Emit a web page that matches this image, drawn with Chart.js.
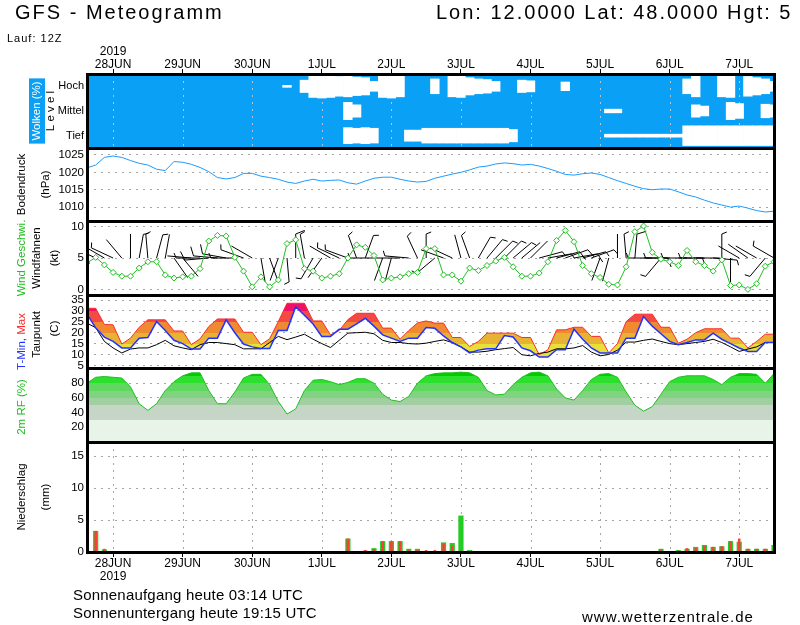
<!DOCTYPE html>
<html lang="de">
<head>
<meta charset="utf-8">
<title>GFS - Meteogramm</title>
<script src="https://cdn.jsdelivr.net/npm/chart.js@4.4.1/dist/chart.umd.min.js"></script>
<style>
  html, body { margin: 0; padding: 0; background: #fff; }
  body { width: 800px; height: 625px; position: relative; overflow: hidden; font-family: "Liberation Sans", Arial, sans-serif; color: #000; }
  canvas { position: absolute; left: 0; top: 0; }
  .txt { position: absolute; white-space: nowrap; line-height: 1; }
  #titel { left: 15px; top: 2px; font-size: 20px; letter-spacing: 2px; }
  #ort { left: 436px; top: 2px; font-size: 20px; letter-spacing: 2px; }
  #lauf { left: 7px; top: 33px; font-size: 11px; letter-spacing: 1px; }
  #auf { left: 73px; top: 587px; font-size: 15px; letter-spacing: 0.2px; }
  #unter { left: 73px; top: 605px; font-size: 15px; letter-spacing: 0.2px; }
  #quelle { left: 582px; top: 609px; font-size: 15px; letter-spacing: 1px; }
</style>
</head>
<body>
<canvas id="meteogramm" width="800" height="625"></canvas>
<div class="txt" id="titel">GFS - Meteogramm</div>
<div class="txt" id="ort">Lon: 12.0000 Lat: 48.0000 Hgt: 5</div>
<div class="txt" id="lauf">Lauf: 12Z</div>
<div class="txt" id="auf">Sonnenaufgang heute 03:14 UTC</div>
<div class="txt" id="unter">Sonnenuntergang heute 19:15 UTC</div>
<div class="txt" id="quelle">www.wetterzentrale.de</div>
<script>
// Stunden ab 28JUN 00Z (Lauf 27JUN 12Z)
const stunden = [
  -9, -6, -3, 0, 3, 6, 9, 12, 15, 18,
  21, 24, 27, 30, 33, 36, 39, 42, 45, 48,
  51, 54, 57, 60, 63, 66, 69, 72, 75, 78,
  81, 84, 87, 90, 93, 96, 99, 102, 105, 108,
  111, 114, 117, 120, 123, 126, 129, 132, 135, 138,
  141, 144, 147, 150, 153, 156, 159, 162, 165, 168,
  171, 174, 177, 180, 183, 186, 189, 192, 195, 198,
  201, 204, 207, 210, 213, 216, 219, 222, 225, 228
];
const tagStunden = [0, 24, 48, 72, 96, 120, 144, 168, 192, 216];
const tage = ['28JUN', '29JUN', '30JUN', '1JUL', '2JUL', '3JUL', '4JUL', '5JUL', '6JUL', '7JUL'];
const jahr = '2019';

const druckTicks = [1010, 1015, 1020, 1025];
const windTicks = [0, 5, 10];
const tempTicks = [5, 10, 15, 20, 25, 30, 35];
const feuchteTicks = [20, 40, 60, 80];
const regenTicks = [0, 5, 10, 15];
const wolkenStufen = ['Tief', 'Mittel', 'Hoch'];

const luftdruck = [
  1021.3, 1022.1, 1024.3, 1024.7, 1024.3, 1023.4, 1022.6, 1022.1, 1020.9, 1020.5,
  1023.1, 1022.9, 1022.3, 1021.4, 1020.2, 1018.5, 1018.1, 1018.5, 1019.7, 1019.7,
  1018.9, 1018.5, 1018.0, 1017.2, 1016.8, 1017.5, 1018.0, 1017.5, 1017.7, 1017.8,
  1017.0, 1016.6, 1017.5, 1018.3, 1018.6, 1018.6, 1018.0, 1017.5, 1017.2, 1017.4,
  1018.3, 1018.9, 1019.5, 1020.0, 1020.7, 1021.5, 1021.8, 1022.4, 1022.7, 1022.5,
  1022.1, 1022.3, 1021.8, 1021.1, 1020.3, 1019.4, 1019.2, 1019.6, 1019.8, 1019.4,
  1018.5, 1017.6, 1016.8, 1016.0, 1015.3, 1015.0, 1015.2, 1015.2, 1014.4, 1013.5,
  1012.9, 1012.0, 1011.2, 1010.6, 1010.0, 1010.3, 1009.7, 1009.0, 1008.6, 1008.8
];

const windGeschw = [
  4.2, 5.1, 3.9, 2.7, 2.1, 2.1, 3.4, 4.4, 4.4, 2.3,
  1.8, 2.0, 2.1, 3.3, 7.7, 8.6, 8.5, 5.1, 2.9, 0.4,
  2.0, 0.4, 1.5, 7.3, 7.9, 3.3, 2.9, 1.8, 2.1, 2.5,
  5.0, 7.1, 6.7, 5.4, 1.5, 1.8, 2.0, 2.5, 2.7, 6.5,
  6.5, 2.3, 2.3, 1.3, 3.4, 3.0, 3.8, 4.5, 5.1, 3.6,
  2.1, 2.1, 2.6, 4.4, 7.8, 9.4, 7.6, 3.8, 2.5, 1.9,
  0.8, 0.7, 3.6, 9.2, 10.1, 5.9, 4.8, 4.4, 3.8, 6.2,
  4.4, 3.8, 2.9, 4.7, 0.6, 0.7, 0.0, 0.9, 3.7, 4.4
];

// Windrichtung in Grad (woher)
const windRichtung = [
  340, 295, 300, 295, 320, 0, 10, 355, 15, 10,
  145, 140, 275, 270, 265, 275, 280, 270, 290, 300,
  170, 160, 200, 175, 0, 350, 210, 215, 300, 295,
  290, 340, 20, 270, 200, 195, 270, 275, 335, 0,
  230, 290, 295, 345, 340, 30, 40, 45, 45, 50,
  50, 45, 75, 80, 75, 70, 80, 75, 70, 200,
  195, 0, 355, 5, 90, 270, 220, 270, 90, 270,
  90, 270, 95, 0, 180, 300, 305, 300, 220, 300
];

const tMax = [
  31.2, 31.2, 23.8, 23.6, 14.8, 17.5, 22.5, 25.9, 25.9, 25.9,
  20.8, 20.8, 14.5, 17.2, 22.8, 26.3, 26.3, 26.3, 20.2, 20.2,
  14.5, 17.2, 25.1, 33.5, 33.5, 33.5, 25.4, 25.4, 19.0, 21.0,
  26.0, 28.9, 28.9, 28.9, 22.1, 22.1, 17.0, 21.0, 24.5, 25.4,
  24.4, 24.4, 17.8, 17.8, 13.7, 16.0, 19.8, 19.8, 19.8, 19.8,
  17.8, 17.8, 9.9, 12.2, 21.3, 21.3, 22.5, 22.5, 18.3, 18.3,
  10.7, 15.0, 25.1, 28.5, 28.5, 28.5, 22.5, 22.5, 15.2, 17.0,
  20.0, 21.8, 21.8, 21.8, 17.5, 17.5, 13.0, 16.0, 19.3, 19.3
];

const tMin = [
  28.5, 22.2, 18.0, 16.0, 13.0, 13.0, 17.5, 17.8, 25.1, 21.0,
  16.5, 15.0, 12.5, 12.5, 17.5, 17.5, 25.9, 20.0, 14.8, 13.5,
  12.7, 12.7, 21.0, 21.0, 31.9, 28.0, 24.0, 18.3, 18.3, 21.6,
  21.6, 24.0, 26.6, 23.0, 19.0, 17.5, 16.0, 17.5, 17.5, 22.4,
  22.0, 18.5, 15.5, 13.5, 10.7, 12.0, 12.6, 12.6, 18.7, 18.0,
  13.0, 11.7, 8.8, 8.8, 12.2, 12.2, 21.6, 17.0, 13.0, 10.7,
  10.7, 10.7, 17.5, 17.5, 27.4, 23.0, 19.5, 16.0, 14.5, 15.5,
  16.7, 16.7, 19.8, 17.0, 15.0, 13.0, 11.4, 11.4, 15.5, 15.5
];

const taupunkt = [
  24.4, 22.3, 16.0, 13.0, 10.7, 12.5, 13.0, 13.0, 14.5, 16.5,
  14.0, 13.0, 12.2, 14.5, 15.5, 15.5, 15.0, 14.5, 12.6, 12.6,
  12.6, 15.5, 18.3, 16.8, 18.0, 19.3, 17.0, 15.0, 13.2, 16.5,
  19.8, 20.0, 20.2, 19.5, 16.5, 15.5, 15.5, 15.0, 14.8, 15.2,
  16.0, 16.7, 15.5, 13.5, 11.1, 11.1, 11.5, 12.2, 12.7, 13.2,
  9.9, 9.4, 10.5, 11.1, 12.6, 12.6, 13.0, 14.1, 11.1, 9.4,
  10.0, 12.0, 15.7, 15.7, 16.5, 17.1, 16.0, 15.0, 14.5, 15.0,
  15.5, 16.0, 17.0, 15.5, 13.5, 11.4, 12.5, 13.5, 15.5, 15.5
];

const feuchte = [
  80, 88, 89, 88, 87, 75, 52, 43, 52, 70,
  82, 90, 94, 94, 70, 52, 52, 68, 87, 92,
  92, 78, 55, 38, 45, 70, 84, 85, 82, 78,
  81, 86, 86, 80, 65, 57, 55, 62, 80, 90,
  93, 94, 94, 95, 94, 88, 70, 64, 65, 78,
  88, 94, 95, 90, 72, 60, 57, 70, 85, 92,
  93, 88, 68, 50, 42, 48, 65, 82, 88, 90,
  90, 90, 85, 78, 88, 93, 93, 92, 80, 93
];

const regenGruen = [
  0, 3.3, 0.4, 0, 0, 0, 0, 0, 0, 0,
  0, 0, 0, 0, 0, 0, 0, 0, 0, 0,
  0, 0, 0, 0, 0, 0, 0, 0, 0, 0,
  2.1, 0, 0.2, 0.6, 1.7, 1.7, 1.7, 0.5, 0.5, 0,
  0, 1.5, 1.4, 5.7, 0.3, 0, 0, 0, 0, 0,
  0, 0, 0, 0, 0, 0, 0, 0, 0, 0,
  0, 0, 0, 0, 0, 0, 0.5, 0, 0.3, 0.5,
  0.8, 1.1, 0.8, 0.9, 1.7, 1.6, 0.5, 0.5, 0.5, 1.1
];

const regenRot = [
  3.9, 3.3, 0.5, 0, 0, 0, 0, 0, 0, 0,
  0, 0, 0, 0, 0, 0, 0, 0, 0, 0,
  0, 0, 0, 0, 0, 0, 0, 0, 0, 0,
  2.1, 0, 0.3, 0.5, 1.7, 1.7, 1.7, 0.4, 0.3, 0.3,
  0.3, 1.3, 1.0, 0.2, 0, 0, 0, 0.1, 0, 0.1,
  0, 0, 0, 0, 0, 0, 0, 0, 0, 0,
  0, 0.1, 0, 0, 0, 0, 0.4, 0, 0.2, 0.6,
  0.6, 1.0, 0.8, 0.9, 1.7, 2.1, 0.5, 0.5, 0.5, 0.5
];

// Bedeckung in %
const wolkenHoch = [
  0, 0, 0, 0, 0, 0, 0, 0, 0, 0,
  0, 0, 0, 0, 0, 0, 0, 0, 0, 0,
  0, 0, 0, 8, 0, 50, 90, 95, 90, 80,
  85, 75, 70, 40, 90, 95, 85, 0, 0, 0,
  60, 0, 85, 90, 70, 60, 55, 40, 0, 0,
  50, 45, 0, 0, 0, 35, 0, 0, 0, 0,
  0, 0, 0, 0, 0, 0, 0, 0, 0, 60,
  85, 0, 0, 85, 90, 0, 80, 70, 60, 40
];
const wolkenMittel = [
  0, 0, 0, 0, 0, 0, 0, 0, 0, 0,
  0, 0, 0, 0, 0, 0, 0, 0, 0, 0,
  0, 0, 0, 0, 0, 0, 0, 0, 0, 0,
  70, 50, 0, 0, 0, 0, 0, 0, 0, 0,
  0, 0, 0, 0, 0, 0, 0, 0, 0, 0,
  0, 0, 0, 0, 0, 0, 0, 0, 0, 0,
  15, 15, 0, 0, 0, 0, 0, 0, 0, 0,
  50, 40, 0, 0, 70, 60, 0, 0, 55, 50
];
const wolkenTief = [
  0, 0, 0, 0, 0, 0, 0, 0, 0, 0,
  0, 0, 0, 0, 0, 0, 0, 0, 0, 0,
  0, 0, 0, 0, 0, 0, 0, 0, 0, 0,
  65, 60, 65, 60, 0, 0, 0, 45, 45, 60,
  60, 60, 60, 60, 60, 60, 60, 60, 60, 50,
  0, 0, 0, 0, 0, 0, 0, 0, 0, 0,
  12, 12, 12, 12, 12, 12, 12, 12, 12, 80,
  80, 80, 80, 80, 80, 80, 80, 80, 80, 80
];

const wolkenBlau = '#0aa0f5';
const gruen = '#1fbf1f';
const schrift = 'Liberation Sans';

const punkte = werte => stunden.map((t, i) => ({ x: t, y: werte[i] }));
const balken = werte => stunden.map((t, i) => ({ x: t, y: werte[i] > 0 ? werte[i] : null }));
const wolkenBalken = (werte, stufe) => stunden.map((t, i) => ({
  x: t,
  y: werte[i] > 0 ? [stufe - werte[i] / 200, stufe + werte[i] / 200] : null
}));

// horizontale Farbbaender fuer Flaechen
function baender(chart, achse, grenzen, farben) {
  const s = chart.scales[achse];
  if (!s || !(s.bottom > s.top)) return farben[0];
  const g = chart.ctx.createLinearGradient(0, s.bottom, 0, s.top);
  const h = s.bottom - s.top;
  const pos = v => Math.min(1, Math.max(0, (s.bottom - s.getPixelForValue(v)) / h));
  farben.forEach((f, k) => {
    g.addColorStop(k === 0 ? 0 : pos(grenzen[k - 1]), f);
    g.addColorStop(k === farben.length - 1 ? 1 : pos(grenzen[k]), f);
  });
  return g;
}

function yAchse(min, max, gewicht, liste, extra) {
  return Object.assign({
    type: 'linear',
    position: 'left',
    stack: 'meteo',
    stackWeight: gewicht,
    min: min,
    max: max,
    offset: false,
    afterBuildTicks: s => { s.ticks = liste.map(v => ({ value: v })); },
    afterFit: s => { s.width = 87; },
    border: { display: false, dash: [2, 5] },
    grid: { color: '#a6a6a6', drawTicks: false, lineWidth: 1 },
    ticks: {
      autoSkip: false, color: '#000', padding: 3,
      font: { family: schrift, size: 11.5 },
      callback: v => String(v)
    }
  }, extra || {});
}

function xAchse(position, hoehe, oben) {
  return {
    type: 'linear',
    position: position,
    min: -9,
    max: 228,
    offset: false,
    afterBuildTicks: s => { s.ticks = tagStunden.map(v => ({ value: v })); },
    afterFit: s => { s.height = hoehe; },
    border: { display: false },
    grid: { offset: false, drawOnChartArea: false, drawTicks: true, tickLength: 5, color: '#000' },
    ticks: {
      autoSkip: false, maxRotation: 0, padding: oben ? -2 : 0, color: '#000',
      font: { family: schrift, size: 12, lineHeight: 1.1 },
      callback: v => {
        const i = tagStunden.indexOf(v);
        if (i !== 0) return tage[i];
        return oben ? [jahr, tage[i]] : [tage[i], jahr];
      }
    }
  };
}

const seitenTexte = [
  { achse: 'yDruck', zeilen: [
    { x: 22, dy: 0, teile: [['Bodendruck', '#000']] },
    { x: 46, dy: 0, teile: [['(hPa)', '#000']] } ] },
  { achse: 'yWind', zeilen: [
    { x: 22, dy: 0, teile: [['Wind Geschwi.', gruen]] },
    { x: 37, dy: 0, teile: [['Windfahnen', '#000']] },
    { x: 55, dy: 0, teile: [['(kt)', '#000']] } ] },
  { achse: 'yTemp', zeilen: [
    { x: 22, dy: 10, teile: [['T-Min, ', '#2233ff'], ['Max', '#ff2a2a']] },
    { x: 37, dy: 3, teile: [['Taupunkt', '#000']] },
    { x: 55, dy: -3, teile: [['(C)', '#000']] } ] },
  { achse: 'yFeuchte', zeilen: [
    { x: 22, dy: 2, teile: [['2m RF (%)', gruen]] } ] },
  { achse: 'yRegen', zeilen: [
    { x: 22, dy: 0, teile: [['Niederschlag', '#000']] },
    { x: 46, dy: 0, teile: [['(mm)', '#000']] } ] },
  { achse: 'yWolken', zeilen: [
    { x: 37, dy: 0, teile: [['Wolken (%)', '#fff']], kasten: wolkenBlau },
    { x: 51, dy: 0, teile: [['L e v e l', '#000']] } ] }
];

const meteoDeko = {
  id: 'meteoDeko',
  beforeDraw(chart) {
    const { ctx, chartArea: a, scales } = chart;
    const w = scales.yWolken;
    ctx.save();
    ctx.fillStyle = wolkenBlau;
    ctx.fillRect(a.left, w.top, a.right - a.left, w.bottom - w.top);
    ctx.restore();
  },
  beforeDatasetsDraw(chart) {
    const { ctx, chartArea: a, scales } = chart;
    const xs = scales.x;
    [['yWolken', '#b8c4cc'], ['yRegen', '#a6a6a6']].forEach(([id, farbe]) => {
      const s = scales[id];
      ctx.save();
      ctx.strokeStyle = farbe;
      ctx.lineWidth = 1;
      ctx.setLineDash([2, 5]);
      tagStunden.forEach(t => {
        const x = Math.round(xs.getPixelForValue(t)) + 0.5;
        ctx.beginPath();
        ctx.moveTo(x, s.top);
        ctx.lineTo(x, s.bottom);
        ctx.stroke();
      });
      ctx.restore();
    });

    // Windfahnen
    const ys = scales.yWind;
    const y0 = ys.getPixelForValue(5);
    ctx.save();
    ctx.beginPath();
    ctx.rect(a.left, ys.top + 2, a.right - a.left, ys.bottom - ys.top - 4);
    ctx.clip();
    ctx.strokeStyle = '#000';
    ctx.lineWidth = 1;
    stunden.forEach((t, i) => {
      const x = xs.getPixelForValue(t);
      const w = windRichtung[i] * Math.PI / 180;
      const dx = Math.sin(w), dy = -Math.cos(w);
      const L = 24;
      const ex = x + dx * L, ey = y0 + dy * L;
      ctx.beginPath();
      ctx.moveTo(x, y0);
      ctx.lineTo(ex, ey);
      const v = windGeschw[i];
      const f = v >= 7.5 ? 9 : v >= 2.5 ? 5 : 0;
      if (f) {
        ctx.moveTo(ex, ey);
        ctx.lineTo(ex - dy * f + dx * f * 0.4, ey + dx * f + dy * f * 0.4);
      }
      ctx.stroke();
    });
    ctx.restore();
  },
  afterDraw(chart) {
    const { ctx, chartArea: a, scales } = chart;
    ctx.save();
    ctx.strokeStyle = '#000';
    ctx.lineWidth = 3;
    ctx.strokeRect(Math.round(a.left) + 0.5, Math.round(a.top) + 0.5,
      Math.round(a.right - a.left), Math.round(a.bottom - a.top));
    ['yDruck', 'yWind', 'yTemp', 'yFeuchte', 'yRegen'].forEach(id => {
      const y = Math.round(scales[id].top) + 0.5;
      ctx.beginPath();
      ctx.moveTo(a.left, y);
      ctx.lineTo(a.right, y);
      ctx.stroke();
    });
    ctx.restore();

    ctx.save();
    ctx.font = '11.5px "' + schrift + '"';
    ctx.textBaseline = 'middle';
    seitenTexte.forEach(p => {
      const s = scales[p.achse];
      const cy = (s.top + s.bottom) / 2;
      p.zeilen.forEach(z => {
        const breite = z.teile.reduce((b, tl) => b + ctx.measureText(tl[0]).width, 0);
        ctx.save();
        ctx.translate(z.x, cy + z.dy);
        ctx.rotate(-Math.PI / 2);
        if (z.kasten) {
          ctx.fillStyle = z.kasten;
          ctx.fillRect(-breite / 2 - 3, -8, breite + 6, 16);
        }
        let px = -breite / 2;
        z.teile.forEach(([text, farbe]) => {
          ctx.fillStyle = farbe;
          ctx.fillText(text, px, 0);
          px += ctx.measureText(text).width;
        });
        ctx.restore();
      });
    });
    ctx.restore();
  }
};

const tempFarben = ['#e8df38', '#e8b234', '#f08a30', '#f44a44', '#ee1166'];
const feuchteFarben = ['#e8f4e8', '#c6d6c6', '#a2cfa2', '#80d480', '#5fd85f', '#2ee02e', '#00cc00'];

new Chart(document.getElementById('meteogramm'), {
  type: 'line',
  data: {
    datasets: [
      {
        label: 'Wind Geschwindigkeit',
        data: punkte(windGeschw),
        yAxisID: 'yWind',
        borderColor: gruen,
        borderWidth: 1,
        pointStyle: 'rectRot',
        pointRadius: 3,
        pointBorderColor: gruen,
        pointBackgroundColor: '#ffffff',
        pointBorderWidth: 1,
        fill: false
      },
      {
        label: 'Bodendruck',
        data: punkte(luftdruck),
        yAxisID: 'yDruck',
        borderColor: '#1a9bff',
        borderWidth: 1,
        pointRadius: 0,
        fill: false
      },
      {
        label: 'Taupunkt',
        data: punkte(taupunkt),
        yAxisID: 'yTemp',
        borderColor: '#000',
        borderWidth: 1,
        pointRadius: 0,
        fill: false
      },
      {
        label: 'T-Max',
        data: punkte(tMax),
        yAxisID: 'yTemp',
        borderColor: '#ff2a2a',
        borderWidth: 1,
        pointRadius: 0,
        fill: '+1',
        backgroundColor: c => baender(c.chart, 'yTemp', [15, 20, 25, 30], tempFarben)
      },
      {
        label: 'T-Min',
        data: punkte(tMin),
        yAxisID: 'yTemp',
        borderColor: '#2233ff',
        borderWidth: 1.5,
        pointRadius: 0,
        fill: false,
        order: -1
      },
      {
        label: '2m RF',
        data: punkte(feuchte),
        yAxisID: 'yFeuchte',
        borderColor: gruen,
        borderWidth: 1,
        pointRadius: 0,
        fill: 'start',
        backgroundColor: c => baender(c.chart, 'yFeuchte', [30, 50, 60, 70, 80, 90], feuchteFarben)
      },
      {
        type: 'bar',
        label: 'Niederschlag konvektiv',
        data: balken(regenRot),
        yAxisID: 'yRegen',
        backgroundColor: '#ff3b3b',
        grouped: false,
        barPercentage: 0.3,
        categoryPercentage: 1
      },
      {
        type: 'bar',
        label: 'Niederschlag',
        data: balken(regenGruen),
        yAxisID: 'yRegen',
        backgroundColor: '#22cc22',
        grouped: false,
        barPercentage: 0.6,
        categoryPercentage: 1
      },
      {
        type: 'bar',
        label: 'Wolken hoch',
        data: wolkenBalken(wolkenHoch, 2.5),
        yAxisID: 'yWolken',
        backgroundColor: '#ffffff',
        grouped: false,
        barPercentage: 1,
        categoryPercentage: 1
      },
      {
        type: 'bar',
        label: 'Wolken mittel',
        data: wolkenBalken(wolkenMittel, 1.5),
        yAxisID: 'yWolken',
        backgroundColor: '#ffffff',
        grouped: false,
        barPercentage: 1,
        categoryPercentage: 1
      },
      {
        type: 'bar',
        label: 'Wolken tief',
        data: wolkenBalken(wolkenTief, 0.5),
        yAxisID: 'yWolken',
        backgroundColor: '#ffffff',
        grouped: false,
        barPercentage: 1,
        categoryPercentage: 1
      }
    ]
  },
  options: {
    responsive: false,
    animation: false,
    events: [],
    layout: { padding: { left: 0, right: 26, top: 0, bottom: 0 } },
    plugins: {
      legend: { display: false },
      tooltip: { enabled: false }
    },
    scales: {
      x: xAchse('top', 74, true),
      xUnten: xAchse('bottom', 73, false),
      // von unten nach oben: die zuletzt definierte Achse liegt oben
      yRegen: yAchse(0, 17.2, 110, regenTicks),
      yFeuchte: yAchse(0, 100.6, 74, feuchteTicks),
      yTemp: yAchse(3.8, 37.3, 73, tempTicks),
      yWind: yAchse(-0.9, 10.9, 74, windTicks),
      yDruck: yAchse(1006, 1027, 73, druckTicks),
      yWolken: yAchse(0, 3, 74, [0.5, 1.5, 2.5], {
        grid: { display: false, drawTicks: false },
        ticks: {
          autoSkip: false, color: '#000', padding: 3, font: { family: schrift, size: 11 },
          callback: v => wolkenStufen[Math.floor(v)]
        }
      })
    }
  },
  plugins: [meteoDeko]
});
</script>
</body>
</html>
